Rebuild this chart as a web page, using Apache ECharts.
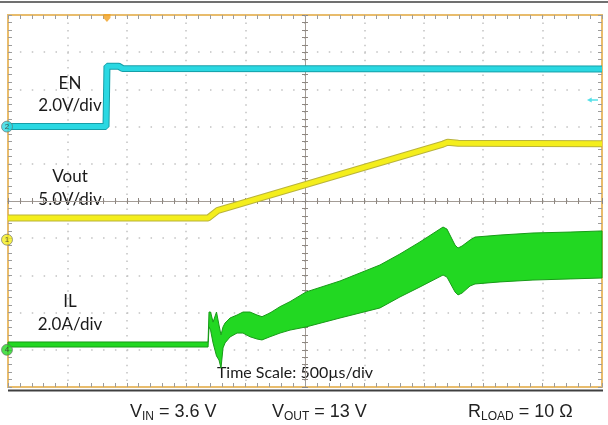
<!DOCTYPE html>
<html>
<head>
<meta charset="utf-8">
<title>EN / Vout / IL start-up</title>
<script src="https://cdn.jsdelivr.net/npm/echarts@6/dist/echarts.min.js"></script>
<style>
  html, body { margin: 0; padding: 0; background: #fff; }
  #chart { width: 608px; height: 425px; }
</style>
</head>
<body>
<div id="chart"></div>
<script>
// time is in microseconds from the left edge of the screen (500 us/div, 10 div)
const enTime = [0, 825, 833, 930, 965, 5000];
const enVolt = [0.0, 0.0, 3.25, 3.25, 3.12, 3.1];

const voutTime = [0, 1684, 1768, 3662, 3700, 3790, 5000];
const voutVolt = [2.9, 2.9, 3.95, 12.85, 13.1, 12.95, 12.9];

// inductor current is a switching band: upper and lower envelope
const ilTime = [0, 1684, 1692, 1705, 1726, 1755, 1776, 1793, 1810, 1827, 1869, 1928, 1978, 2037,
  2096, 2138, 2205, 2290, 2374, 2509, 2795, 3131, 3299, 3468, 3662, 3695, 3763, 3788, 3822,
  3889, 3931, 4142, 4419, 4732, 5000];
const ilHigh = [0.42, 0.42, 2.03, 2.03, 1.49, 2.03, 1.33, 0.80, 1.23, 1.44, 1.71, 1.87, 2.03, 2.03,
  1.87, 1.78, 1.98, 2.32, 2.59, 3.11, 3.70, 4.56, 5.15, 5.80, 6.60, 6.49, 5.63, 5.47, 5.58,
  5.90, 6.06, 6.17, 6.28, 6.33, 6.39];
const ilLow = [0.15, 0.15, 1.23, 1.06, 0.37, -0.33, -0.55, -0.98, 0.10, 0.37, 0.69, 0.90, 0.90, 0.70,
  0.58, 0.53, 0.70, 0.90, 1.06, 1.23, 1.71, 2.25, 2.84, 3.38, 4.02, 3.91, 3.11, 2.95, 3.05,
  3.43, 3.54, 3.65, 3.75, 3.81, 3.86];

// scope settings: units per division and ground marker position (divisions from centre)
const enScale = 2, enOffset = 2.0;
const voutScale = 5, voutOffset = -1.04;
const ilScale = 2, ilOffset = -4.0;
const triggerTime = 833;
const triggerLevel = 1.43;

const chart = echarts.init(document.getElementById('chart'));

const frameColor = '#E8BC6C';
const tickColor = '#9C9C9C';
const dotColor = '#C2C2C2';

// graticule axis in divisions (-5..5), one per side plus two through the centre
function divAxis(position, extra) {
  return Object.assign({
    type: 'value', min: -5, max: 5, interval: 1, position: position,
    axisLine: { show: true, onZero: false, lineStyle: { color: frameColor, width: 2 } },
    axisTick: { show: true, inside: true, length: 4, lineStyle: { color: tickColor, width: 1 } },
    minorTick: { show: true, splitNumber: 5, length: 4, lineStyle: { color: tickColor, width: 1 } },
    axisLabel: { show: false },
    splitLine: { show: false }
  }, extra);
}
function centreAxis(position, inside) {
  return divAxis(position, {
    axisLine: { show: true, onZero: true, onZeroAxisIndex: 0, lineStyle: { color: '#A39C96', width: 1 } },
    axisTick: { show: true, inside: inside, length: 3, lineStyle: { color: '#8E8781' } },
    minorTick: { show: true, splitNumber: 5, length: 3, lineStyle: { color: '#8E8781' } }
  });
}
function channelAxis(scale, offset) {
  return { type: 'value', show: false, min: (-5 - offset) * scale, max: (5 - offset) * scale };
}

function channelMarker(name, yIndex, color, text) {
  return {
    name: name, type: 'scatter', xAxisIndex: 4, yAxisIndex: yIndex, clip: false, z: 10,
    symbol: 'circle', symbolSize: 11, symbolOffset: [-1, 0],
    itemStyle: { color: color, borderColor: '#6a6a6a', borderWidth: 0.8 },
    label: { show: true, position: 'inside', formatter: text, fontSize: 8, color: '#333' },
    data: [[0, 0]]
  };
}

const option = {
  animation: false,
  backgroundColor: '#fff',
  grid: {
    left: 8, top: 15, width: 594, height: 372,
    show: true, borderColor: frameColor, borderWidth: 2,
    containLabel: false, outerBoundsMode: 'none'
  },
  xAxis: [
    divAxis('bottom', { splitLine: { show: true, lineStyle: { color: dotColor, width: 1.5, type: [1.5, 5.94] } } }),
    divAxis('top'),
    centreAxis('bottom', true),
    centreAxis('bottom', false),
    { type: 'value', show: false, min: 0, max: 5000 }
  ],
  yAxis: [
    divAxis('left', { splitLine: { show: true, lineStyle: { color: dotColor, width: 1.5, type: [1.5, 10.38] } } }),
    divAxis('right'),
    centreAxis('left', true),
    centreAxis('left', false),
    channelAxis(enScale, enOffset),
    channelAxis(voutScale, voutOffset),
    channelAxis(ilScale, ilOffset)
  ],
  series: [
    {
      name: 'IL', type: 'custom', xAxisIndex: 4, yAxisIndex: 6, z: 3,
      data: [[0, 0]],
      renderItem: function (params, api) {
        const pts = [];
        for (let i = 0; i < ilTime.length; i++) pts.push(api.coord([ilTime[i], ilHigh[i]]));
        for (let i = ilTime.length - 1; i >= 0; i--) pts.push(api.coord([ilTime[i], ilLow[i]]));
        return {
          type: 'polygon', shape: { points: pts },
          style: { fill: '#22D822', stroke: '#179B17', lineWidth: 1 }
        };
      }
    },
    {
      name: 'Vout edge', type: 'line', xAxisIndex: 4, yAxisIndex: 5, z: 3, symbol: 'none',
      lineStyle: { color: '#B9B33A', width: 7 },
      data: voutTime.map((t, i) => [t, voutVolt[i]])
    },
    {
      name: 'Vout', type: 'line', xAxisIndex: 4, yAxisIndex: 5, z: 4, symbol: 'none',
      lineStyle: { color: '#F4EE1C', width: 5 },
      data: voutTime.map((t, i) => [t, voutVolt[i]])
    },
    {
      name: 'EN edge', type: 'line', xAxisIndex: 4, yAxisIndex: 4, z: 3, symbol: 'none',
      lineStyle: { color: '#169FA8', width: 7 },
      data: enTime.map((t, i) => [t, enVolt[i]])
    },
    {
      name: 'EN', type: 'line', xAxisIndex: 4, yAxisIndex: 4, z: 4, symbol: 'none',
      lineStyle: { color: '#2AD8E2', width: 5 },
      data: enTime.map((t, i) => [t, enVolt[i]])
    },
    channelMarker('ch2', 4, '#2AD8E2', '2'),
    channelMarker('ch1', 5, '#F4EE1C', '1'),
    channelMarker('ch4', 6, '#22D822', '4'),
    {
      // trigger level arrow on the right edge
      name: 'trig level', type: 'scatter', xAxisIndex: 4, yAxisIndex: 4, z: 10, clip: false,
      symbol: 'path://M0,5 L6,0 L6,3.5 L14,3.5 L14,6.5 L6,6.5 L6,10 Z', symbolSize: [11, 5],
      itemStyle: { color: '#2AD8E2' },
      data: [[4920, triggerLevel]]
    },
    {
      // trigger position marker at the top
      name: 'trig pos', type: 'scatter', xAxisIndex: 4, yAxisIndex: 0, z: 10, clip: false,
      symbol: 'path://M0,0 L10,0 L10,5 L5,10 L0,5 Z', symbolSize: [7, 8], symbolOffset: [0, 3],
      itemStyle: { color: '#F0A020' },
      data: [[triggerTime, 5]]
    }
  ],
  graphic: [
    { type: 'rect', shape: { x: 0, y: 1, width: 608, height: 2 }, style: { fill: '#707070' } },
    { type: 'rect', shape: { x: 8, y: 389.5, width: 595, height: 2 }, style: { fill: '#404040' } },
    { type: 'text', x: 70, y: 84, style: { text: 'EN', font: '17px Lato', fill: '#1a1a1a', align: 'center', verticalAlign: 'middle' } },
    { type: 'text', x: 70, y: 106, style: { text: '2.0V/div', font: '17px Lato', fill: '#1a1a1a', align: 'center', verticalAlign: 'middle' } },
    { type: 'text', x: 70, y: 177, style: { text: 'Vout', font: '17px Lato', fill: '#1a1a1a', align: 'center', verticalAlign: 'middle' } },
    { type: 'text', x: 70, y: 200, style: { text: '5.0V/div', font: '17px Lato', fill: '#1a1a1a', align: 'center', verticalAlign: 'middle' } },
    { type: 'text', x: 70, y: 302, style: { text: 'IL', font: '17px Lato', fill: '#1a1a1a', align: 'center', verticalAlign: 'middle' } },
    { type: 'text', x: 70, y: 325, style: { text: '2.0A/div', font: '17px Lato', fill: '#1a1a1a', align: 'center', verticalAlign: 'middle' } },
    { type: 'text', x: 295, y: 373, style: { text: 'Time Scale: 500µs/div', font: '16px Lato', fill: '#1a1a1a', align: 'center', verticalAlign: 'middle' } },
    {
      type: 'text', x: 130, y: 412,
      style: {
        text: '{m|V}{s|IN}{m| = 3.6 V}', verticalAlign: 'middle',
        rich: {
          m: { fontSize: 18, fontFamily: 'Liberation Sans', fill: '#222', lineHeight: 22 },
          s: { fontSize: 12, fontFamily: 'Liberation Sans', fill: '#222', lineHeight: 13, padding: [9, 0, 0, 0] }
        }
      }
    },
    {
      type: 'text', x: 272, y: 412,
      style: {
        text: '{m|V}{s|OUT}{m| = 13 V}', verticalAlign: 'middle',
        rich: {
          m: { fontSize: 18, fontFamily: 'Liberation Sans', fill: '#222', lineHeight: 22 },
          s: { fontSize: 12, fontFamily: 'Liberation Sans', fill: '#222', lineHeight: 13, padding: [9, 0, 0, 0] }
        }
      }
    },
    {
      type: 'text', x: 468, y: 412,
      style: {
        text: '{m|R}{s|LOAD}{m| = 10 Ω}', verticalAlign: 'middle',
        rich: {
          m: { fontSize: 18, fontFamily: 'Liberation Sans', fill: '#222', lineHeight: 22 },
          s: { fontSize: 12, fontFamily: 'Liberation Sans', fill: '#222', lineHeight: 13, padding: [9, 0, 0, 0] }
        }
      }
    }
  ]
};

chart.setOption(option);
</script>
</body>
</html>
